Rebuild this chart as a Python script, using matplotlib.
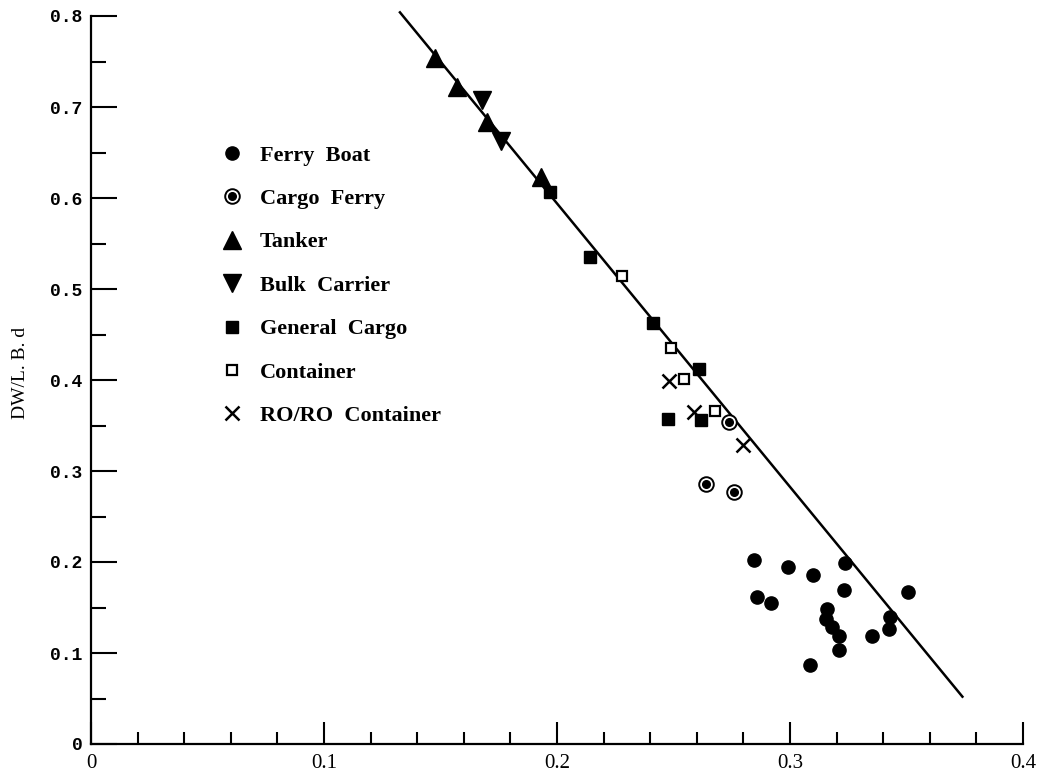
import matplotlib
matplotlib.use("Agg")
import matplotlib.pyplot as plt
from matplotlib.ticker import MultipleLocator, FixedLocator

# Ship data: block-type ratio (x) against DW/L.B.d (y)
ferry_x = [0.2845, 0.299, 0.310, 0.3236, 0.323, 0.3506, 0.286, 0.292, 0.316,
           0.3155, 0.318, 0.321, 0.343, 0.3425, 0.335, 0.321, 0.3086]
ferry_y = [0.202, 0.195, 0.186, 0.199, 0.169, 0.167, 0.1615, 0.155, 0.148,
           0.137, 0.129, 0.119, 0.1395, 0.126, 0.119, 0.103, 0.087]

cargo_ferry_x = [0.274, 0.264, 0.276]
cargo_ferry_y = [0.354, 0.286, 0.277]

tanker_x = [0.1476, 0.157, 0.170, 0.193]
tanker_y = [0.754, 0.722, 0.684, 0.623]

bulk_x = [0.168, 0.176]
bulk_y = [0.708, 0.663]

general_x = [0.197, 0.214, 0.241, 0.261, 0.2476, 0.262]
general_y = [0.607, 0.535, 0.463, 0.412, 0.357, 0.356]

container_x = [0.228, 0.249, 0.2545, 0.268]
container_y = [0.514, 0.435, 0.401, 0.366]

roro_x = [0.248, 0.259, 0.280]
roro_y = [0.399, 0.365, 0.329]

# Fitted trend line end points
line_x = [0.1326, 0.374]
line_y = [0.804, 0.052]

x_tick_vals = [0, 0.1, 0.2, 0.3, 0.4]
x_tick_labels = ["0", "0.1", "0.2", "0.3", "0.4"]
y_tick_vals = [0, 0.1, 0.2, 0.3, 0.4, 0.5, 0.6, 0.7, 0.8]
y_tick_labels = ["0", "0.1", "0.2", "0.3", "0.4", "0.5", "0.6", "0.7", "0.8"]

W, H = 1053, 774
fig = plt.figure(figsize=(W / 100, H / 100), dpi=100)
ax = fig.add_axes([91 / W, 1 - 744 / H, 932 / W, 728 / H])

ax.plot(line_x, line_y, color="black", lw=1.8, clip_on=False, zorder=1)

h_ferry, = ax.plot(ferry_x, ferry_y, "o", color="black", ms=9.5, ls="none",
                   clip_on=False, zorder=3)
h_cf_ring, = ax.plot(cargo_ferry_x, cargo_ferry_y, "o", mfc="white", mec="black",
                     mew=1.4, ms=10.5, ls="none", zorder=3)
h_cf_dot, = ax.plot(cargo_ferry_x, cargo_ferry_y, "o", color="black", ms=5.5,
                    ls="none", zorder=4)
h_tank, = ax.plot(tanker_x, tanker_y, "^", color="black", ms=13, ls="none",
                  zorder=3)
h_bulk, = ax.plot(bulk_x, bulk_y, "v", color="black", ms=13, ls="none",
                  zorder=3)
h_gen, = ax.plot(general_x, general_y, "s", color="black", ms=8.5, ls="none",
                 zorder=3)
h_cont, = ax.plot(container_x, container_y, "s", mfc="white", mec="black",
                  mew=1.6, ms=7, ls="none", zorder=3)
h_roro, = ax.plot(roro_x, roro_y, "x", color="black", mew=1.8, ms=10,
                  ls="none", zorder=3)

ax.set_xlim(0, 0.4)
ax.set_ylim(0, 0.8)

for side in ("top", "right"):
    ax.spines[side].set_visible(False)
for side in ("left", "bottom"):
    ax.spines[side].set_linewidth(1.6)

ax.xaxis.set_major_locator(FixedLocator(x_tick_vals))
ax.xaxis.set_minor_locator(MultipleLocator(0.02))
ax.yaxis.set_major_locator(FixedLocator(y_tick_vals))
ax.yaxis.set_minor_locator(MultipleLocator(0.05))
ax.set_xticklabels(x_tick_labels, fontfamily="Liberation Serif",
                   fontsize=15)
ax.set_yticklabels(y_tick_labels, fontfamily="Liberation Mono",
                   fontweight="bold", fontsize=13)

ax.tick_params(axis="x", which="major", direction="in", length=16, width=1.5,
               pad=7)
ax.tick_params(axis="x", which="minor", direction="in", length=9, width=1.5)
ax.tick_params(axis="y", which="major", direction="in", length=19, width=1.5,
               pad=6)
ax.tick_params(axis="y", which="minor", direction="in", length=11, width=1.5)

ax.set_ylabel("DW/L. B. d", fontfamily="Liberation Serif", fontsize=14)
ax.yaxis.set_label_coords(-0.066, 0.51)

handles = [h_ferry, (h_cf_ring, h_cf_dot), h_tank, h_bulk, h_gen, h_cont,
           h_roro]
labels = ["Ferry  Boat", "Cargo  Ferry", "Tanker", "Bulk  Carrier",
          "General  Cargo", "Container", "RO/RO  Container"]
leg = ax.legend(handles, labels, loc="upper left",
                bbox_to_anchor=(219 / W, 1 - 145 / H),
                bbox_transform=fig.transFigure, frameon=False, numpoints=1,
                handlelength=1.2, handletextpad=0.65, labelspacing=1.03,
                borderpad=0, borderaxespad=0,
                prop={"family": "Liberation Serif", "weight": "bold",
                      "size": 16})

fig.savefig("out.png", dpi=100, facecolor="white")
